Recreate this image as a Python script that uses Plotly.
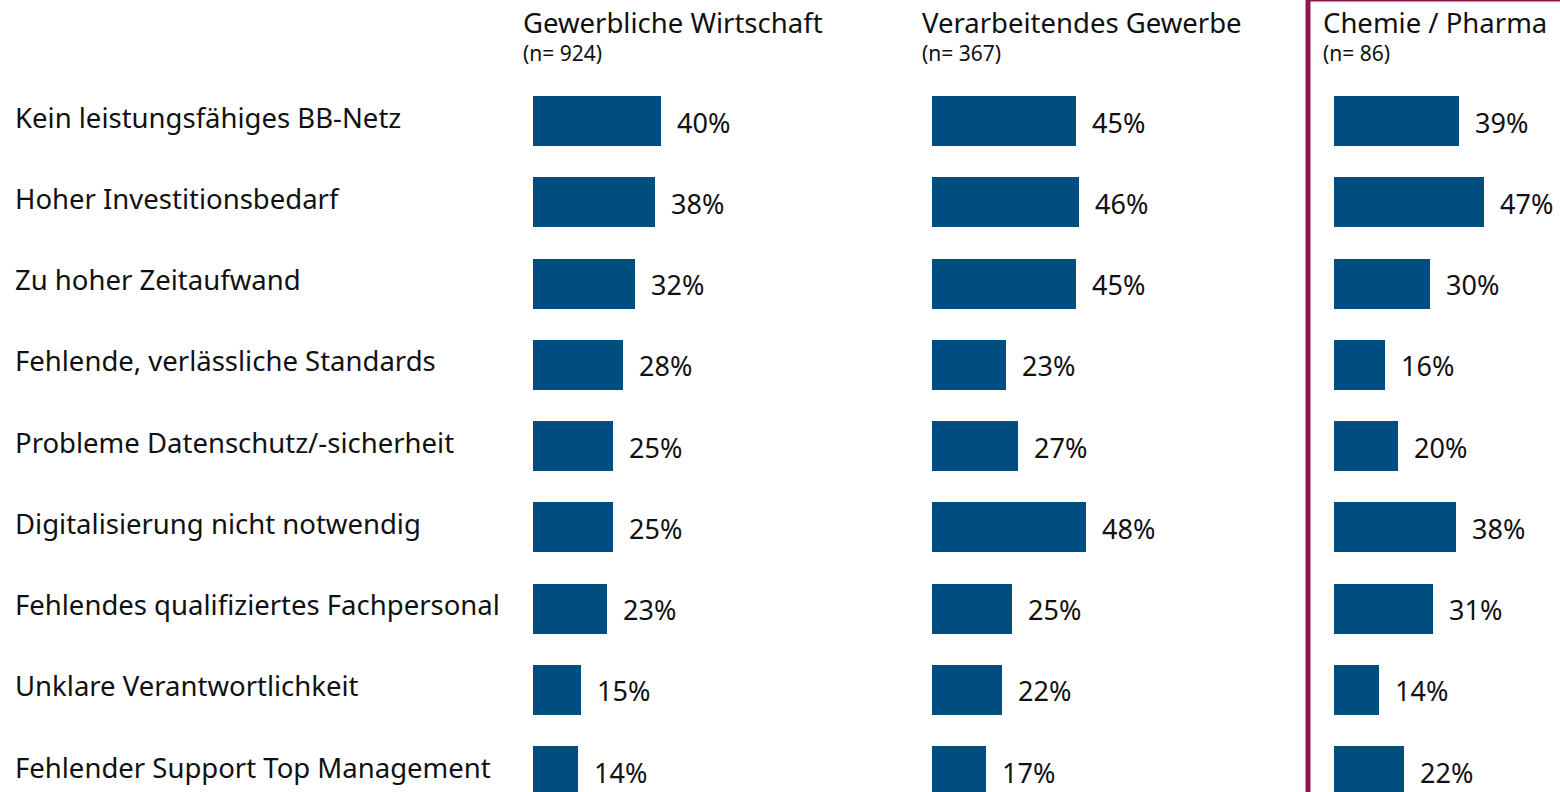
import plotly.graph_objects as go

categories = [
    "Kein leistungsfähiges BB-Netz",
    "Hoher Investitionsbedarf",
    "Zu hoher Zeitaufwand",
    "Fehlende, verlässliche Standards",
    "Probleme Datenschutz/-sicherheit",
    "Digitalisierung nicht notwendig",
    "Fehlendes qualifiziertes Fachpersonal",
    "Unklare Verantwortlichkeit",
    "Fehlender Support Top Management",
]
panel_titles = ["Gewerbliche Wirtschaft", "Verarbeitendes Gewerbe", "Chemie / Pharma"]
panel_n = ["(n= 924)", "(n= 367)", "(n= 86)"]
gewerbliche = [40, 38, 32, 28, 25, 25, 23, 15, 14]
verarbeitend = [45, 46, 45, 23, 27, 48, 25, 22, 17]
chemie = [39, 47, 30, 16, 20, 38, 31, 14, 22]
series = [gewerbliche, verarbeitend, chemie]

W, H = 1560, 792
BAR = "#004E7F"
MAGENTA = "#8B1A4B"
FONT = "Noto Sans"

# layout constants (pixels)
bar_x0 = [533, 932, 1334]
header_x = [523, 922, 1323]
panel_w = 360
px_per_unit = 3.2
row0, row_step, bar_h = 121, 81.25, 50

fig = go.Figure()
y_top = -row0 / row_step
y_bot = y_top + H / row_step

for i, vals in enumerate(series):
    xa = "x" if i == 0 else f"x{i+1}"
    fig.add_trace(go.Bar(
        x=vals, y=list(range(len(categories))), orientation="h",
        marker=dict(color=BAR, line=dict(width=0)),
        width=bar_h / row_step, xaxis=xa, yaxis="y",
        hoverinfo="skip", showlegend=False,
    ))
    x1px = min(bar_x0[i] + panel_w, W)
    d0 = bar_x0[i] / W
    d1 = x1px / W
    key = "xaxis" if i == 0 else f"xaxis{i+1}"
    fig.update_layout(**{key: dict(domain=[d0, d1], range=[0, (x1px - bar_x0[i]) / px_per_unit],
                                   visible=False, fixedrange=True, anchor="y")})
    for j, v in enumerate(vals):
        fig.add_annotation(x=v, y=j, xref=xa, yref="y", text=f"{v}%",
                           showarrow=False, xanchor="left", xshift=14, yshift=-1,
                           font=dict(family=FONT, size=27, color="#111111"))
    fig.add_annotation(x=header_x[i] / W, y=1 - 22 / H, xref="paper", yref="paper",
                       text=panel_titles[i], showarrow=False, xanchor="left", yanchor="middle",
                       xshift=-2,
                       font=dict(family=FONT, size=27.5, color="#111111"))
    fig.add_annotation(x=header_x[i] / W, y=1 - 53 / H, xref="paper", yref="paper",
                       text=panel_n[i], showarrow=False, xanchor="left", yanchor="middle",
                       xshift=-2,
                       font=dict(family=FONT, size=21, color="#111111"))

for j, c in enumerate(categories):
    fig.add_annotation(x=13 / W, y=j, xref="paper", yref="y", text=c, showarrow=False,
                       xanchor="left", yanchor="middle", yshift=4,
                       font=dict(family=FONT, size=27.5, color="#111111"))

fig.add_shape(type="rect", xref="paper", yref="paper",
              x0=1308 / W, x1=1600 / W, y0=-0.2, y1=1 + 1 / H,
              line=dict(color=MAGENTA, width=5), fillcolor="rgba(0,0,0,0)", layer="above")

fig.update_layout(
    width=W, height=H,
    margin=dict(l=0, r=0, t=0, b=0),
    paper_bgcolor="white", plot_bgcolor="white",
    yaxis=dict(domain=[0, 1], range=[y_bot, y_top], visible=False, fixedrange=True),
    bargap=0,
)

fig.write_html("out.html", config={"displayModeBar": False},
               post_script="document.body.style.margin='0';document.body.style.overflow='hidden';")
